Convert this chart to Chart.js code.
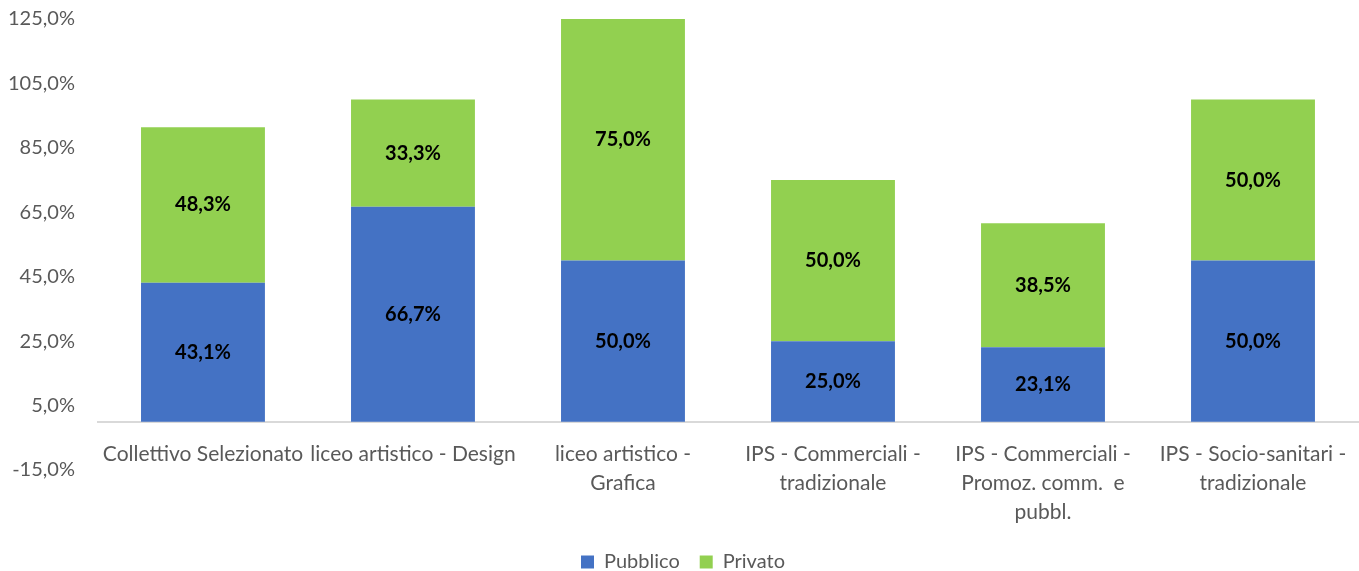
<!DOCTYPE html>
<html>
<head>
<meta charset="utf-8">
<script src="https://cdn.jsdelivr.net/npm/chart.js@4"></script>
<style>
  html, body { margin: 0; padding: 0; background: #fff; }
  #wrap { width: 1359px; height: 571px; }
</style>
</head>
<body>
<div id="wrap"><canvas id="chart"></canvas></div>
<script>
// data
const categories = [
    "Collettivo Selezionato",
    "liceo artistico - Design",
    ["liceo artistico -", "Grafica"],
    ["IPS - Commerciali -", "tradizionale"],
    ["IPS - Commerciali -", "Promoz. comm.  e", "pubbl."],
    ["IPS - Socio-sanitari -", "tradizionale"]
];
const pubblico = [43.1, 66.7, 50.0, 25.0, 23.1, 50.0];
const privato = [48.3, 33.3, 75.0, 50.0, 38.5, 50.0];

const yMin = -15;
const yMax = 125;
const yStep = 20;

const fontFamily = "Lato, 'Open Sans', sans-serif";
const textGrey = "#595959";

function pct(v) {
    return v.toFixed(1).replace(".", ",") + "%";
}

// labels inside each bar segment
const barLabels = {
    id: "barLabels",
    afterDatasetsDraw(chart) {
        const ctx = chart.ctx;
        ctx.save();
        ctx.font = "bold 20px " + fontFamily;
        ctx.fillStyle = "#000";
        ctx.textAlign = "center";
        ctx.textBaseline = "middle";
        chart.data.datasets.forEach((ds, i) => {
            const meta = chart.getDatasetMeta(i);
            meta.data.forEach((bar, j) => {
                const mid = (bar.y + bar.base) / 2;
                ctx.fillText(pct(ds.data[j]), bar.x, mid);
            });
        });
        ctx.restore();
    }
};

const ctx = document.getElementById("chart").getContext("2d");
new Chart(ctx, {
    type: "bar",
    data: {
        labels: categories,
        datasets: [
            {
                label: "Pubblico",
                data: pubblico,
                backgroundColor: "#4472C4"
            },
            {
                label: "Privato",
                data: privato,
                backgroundColor: "#92D050"
            }
        ]
    },
    options: {
        responsive: true,
        maintainAspectRatio: false,
        animation: false,
        layout: {
            padding: { left: 8, right: 1, top: 19, bottom: -11 }
        },
        datasets: {
            bar: {
                categoryPercentage: 1,
                barPercentage: 0.59
            }
        },
        scales: {
            x: {
                stacked: true,
                position: { y: 0 },
                // same trick: invisible tick marks push the labels down
                grid: { display: false, drawTicks: true, tickLength: 18 },
                border: { display: true, color: "#d9d9d9", width: 2 },
                ticks: {
                    color: textGrey,
                    font: { family: fontFamily, size: 21, lineHeight: 1.38 },
                    padding: 0,
                    maxRotation: 0,
                    minRotation: 0,
                    autoSkip: false
                }
            },
            y: {
                stacked: true,
                min: yMin,
                max: yMax,
                // tick marks hidden, their length only keeps labels off the bars
                grid: { display: false, drawTicks: true, tickLength: 23 },
                border: { display: false },
                ticks: {
                    stepSize: yStep,
                    color: textGrey,
                    font: { family: fontFamily, size: 20 },
                    padding: 0,
                    callback: (v) => pct(v)
                }
            }
        },
        plugins: {
            legend: {
                position: "bottom",
                title: {
                    display: true,
                    text: " ",
                    font: { size: 10 },
                    padding: { top: 50, bottom: 0 }
                },
                labels: {
                    color: textGrey,
                    font: { family: fontFamily, size: 20 },
                    boxWidth: 13,
                    boxHeight: 13,
                    padding: 20
                }
            },
            tooltip: { enabled: false }
        }
    },
    plugins: [barLabels]
});
</script>
</body>
</html>
